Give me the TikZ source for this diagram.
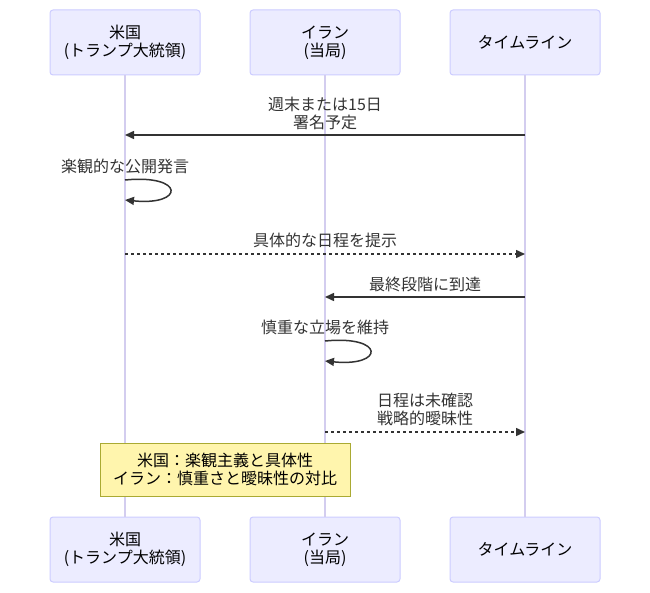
\documentclass[tikz,border=0pt]{standalone}
\usepackage{fontspec}
\setmainfont{Noto Sans CJK JP}
\usetikzlibrary{arrows.meta}
\definecolor{actfill}{HTML}{ECECFF}
\definecolor{actline}{HTML}{CCCCFF}
\definecolor{lifeline}{HTML}{D3CDEF}
\definecolor{msg}{HTML}{333333}
\definecolor{notefill}{HTML}{FFF5AD}
\definecolor{noteline}{HTML}{AAAA33}
\tikzset{
  actor/.style={draw=actline, fill=actfill, rounded corners=3pt, line width=1pt,
    minimum width=150pt, minimum height=65pt, inner sep=0pt, align=center,
    font=\fontsize{16}{18}\selectfont, text=black},
  life/.style={draw=lifeline, line width=1.3pt},
  solidmsg/.style={draw=msg, line width=1.5pt, -{Triangle[length=9pt,width=8pt]}},
  dotmsg/.style={draw=msg, line width=1.5pt, dash pattern=on 3pt off 3pt, -{Triangle[length=9pt,width=8pt]}},
  lbl/.style={font=\fontsize{16}{18}\selectfont, text=msg, align=center, inner sep=0pt},
  notebox/.style={draw=noteline, fill=notefill, line width=1pt, minimum width=250pt,
    minimum height=53pt, inner sep=0pt, align=center, font=\fontsize{16}{18}\selectfont, text=black},
}
\begin{document}
\begin{tikzpicture}[x=1pt,y=-1pt]
\useasboundingbox (0,0) rectangle (650,593);
% actors
\node[actor] (usT) at (125,42.5) {米国\\(トランプ大統領)};
\node[actor] (irT) at (325,42.5) {イラン\\(当局)};
\node[actor] (tlT) at (525,42.5) {タイムライン};
\node[actor] (usB) at (125,549.5) {米国\\(トランプ大統領)};
\node[actor] (irB) at (325,549.5) {イラン\\(当局)};
\node[actor] (tlB) at (525,549.5) {タイムライン};
% lifelines
\draw[life] (usT.south) -- (usB.north);
\draw[life] (irT.south) -- (irB.north);
\draw[life] (tlT.south) -- (tlB.north);
% coordinates on lifelines
\coordinate (tl1) at (525,135); \coordinate (us1) at (125,135);
\coordinate (us2a) at (125,180); \coordinate (us2b) at (125,200);
\coordinate (us3) at (125,254); \coordinate (tl3) at (525,254);
\coordinate (tl4) at (525,297); \coordinate (ir4) at (325,297);
\coordinate (ir5a) at (325,341); \coordinate (ir5b) at (325,361);
\coordinate (ir6) at (325,432); \coordinate (tl6) at (525,432);
% messages
\node[lbl] (m1) at (325,113) {週末または15日\\署名予定};
\draw[solidmsg] (tl1) -- (us1);
\node[lbl] (m2) at (125,166) {楽観的な公開発言};
\draw[solidmsg] (us2a) .. controls (185,174) and (185,206) .. (us2b);
\node[lbl] (m3) at (325,240) {具体的な日程を提示};
\draw[dotmsg] (us3) -- (tl3);
\node[lbl] (m4) at (425,284) {最終段階に到達};
\draw[solidmsg] (tl4) -- (ir4);
\node[lbl] (m5) at (325,327) {慎重な立場を維持};
\draw[solidmsg] (ir5a) .. controls (385,335) and (385,367) .. (ir5b);
\node[lbl] (m6) at (425,409) {日程は未確認\\戦略的曖昧性};
\draw[dotmsg] (ir6) -- (tl6);
% note
\node[notebox] (note) at (225,469.5) {米国：楽観主義と具体性\\イラン：慎重さと曖昧性の対比};
\end{tikzpicture}
\end{document}
